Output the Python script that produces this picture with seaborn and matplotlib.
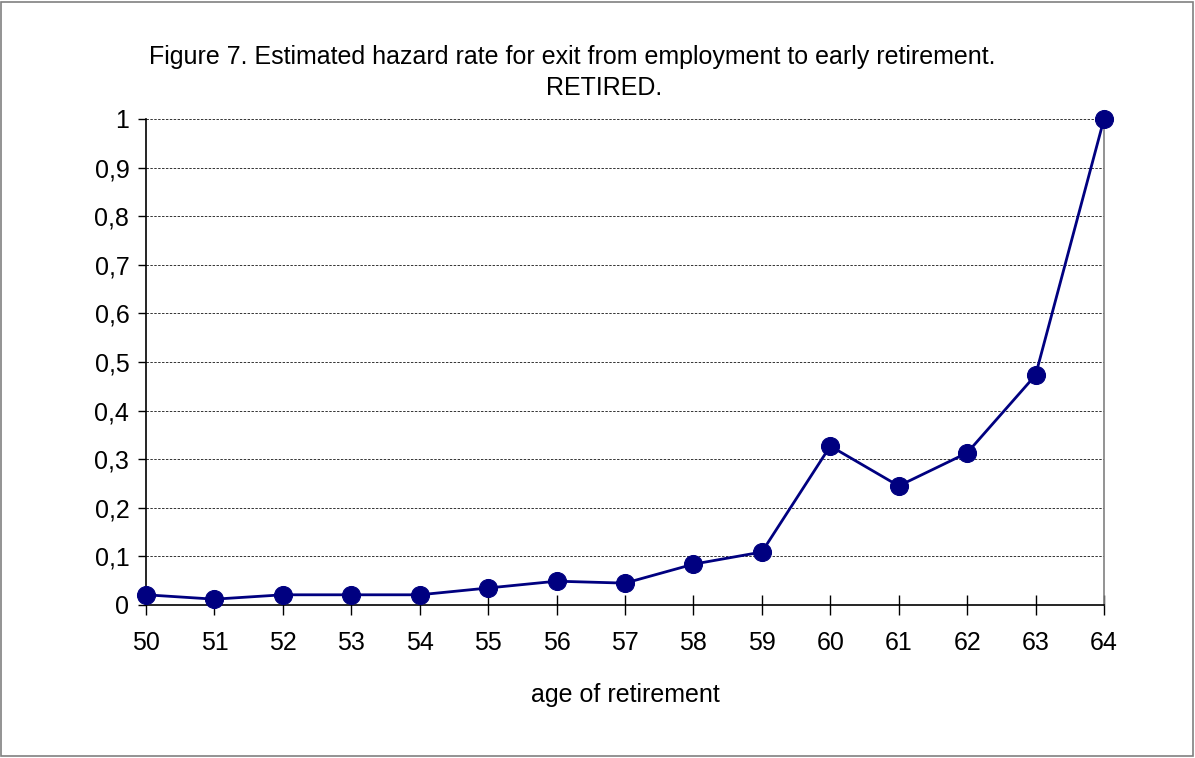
import matplotlib
matplotlib.use("Agg")
import matplotlib.pyplot as plt
import seaborn as sns
import pandas as pd
from matplotlib.patches import Rectangle

# Estimated hazard rate by age of retirement
ages = [50, 51, 52, 53, 54, 55, 56, 57, 58, 59, 60, 61, 62, 63, 64]
hazard = [0.021, 0.012, 0.021, 0.021, 0.021, 0.035, 0.049, 0.045,
          0.084, 0.109, 0.327, 0.245, 0.313, 0.473, 1.0]
y_ticks = [0, 0.1, 0.2, 0.3, 0.4, 0.5, 0.6, 0.7, 0.8, 0.9, 1.0]
y_tick_labels = ["0", "0,1", "0,2", "0,3", "0,4", "0,5", "0,6", "0,7", "0,8", "0,9", "1"]

sns.set_style("white")
plt.rcParams["font.family"] = ["Liberation Sans", "DejaVu Sans"]
plt.rcParams["text.color"] = "black"

df = pd.DataFrame({"age": ages, "hazard": hazard})

fig = plt.figure(figsize=(11.95, 7.58), dpi=100)
ax = fig.add_axes([146 / 1195, 1 - 605 / 758, (1104 - 146) / 1195, (605 - 119) / 758])

# outer frame around the whole chart
fig.patches.append(Rectangle((0.001, 0.003), 0.997, 0.994, transform=fig.transFigure,
                             fill=False, edgecolor="#808080", linewidth=1.2))

for t in y_ticks[1:]:
    ax.axhline(t, color="#333333", linestyle=(0, (2.5, 1.5)), linewidth=0.7, zorder=1)

sns.lineplot(data=df, x="age", y="hazard", ax=ax, color="#000080", linewidth=2,
             marker="o", markersize=13, markeredgecolor="#000080", zorder=3,
             clip_on=False)

ax.set_xlim(50, 64)
ax.set_ylim(0, 1)
ax.set_xticks(ages)
ax.set_xticklabels([str(a) for a in ages])
ax.set_yticks(y_ticks)
ax.set_yticklabels(y_tick_labels)

ax.spines["top"].set_visible(False)
ax.spines["left"].set_color("black")
ax.spines["bottom"].set_color("black")
ax.spines["right"].set_color("#808080")
for s in ["left", "bottom", "right"]:
    ax.spines[s].set_linewidth(1.2)

ax.tick_params(axis="x", direction="inout", length=14, width=1, colors="black",
               labelsize=18, pad=12, bottom=True)
ax.tick_params(axis="y", direction="out", length=6, width=1, colors="black",
               labelsize=18, pad=6, left=True)

ax.set_xlabel("age of retirement", fontsize=18, labelpad=20, color="black")
ax.set_ylabel("")

fig.text(572 / 1195, 1 - 57 / 758,
         "Figure 7. Estimated hazard rate for exit from employment to early retirement.",
         ha="center", va="center", fontsize=18)
fig.text(604 / 1195, 1 - 88 / 758, "RETIRED.", ha="center", va="center", fontsize=18)

fig.savefig("out.png", dpi=100)
